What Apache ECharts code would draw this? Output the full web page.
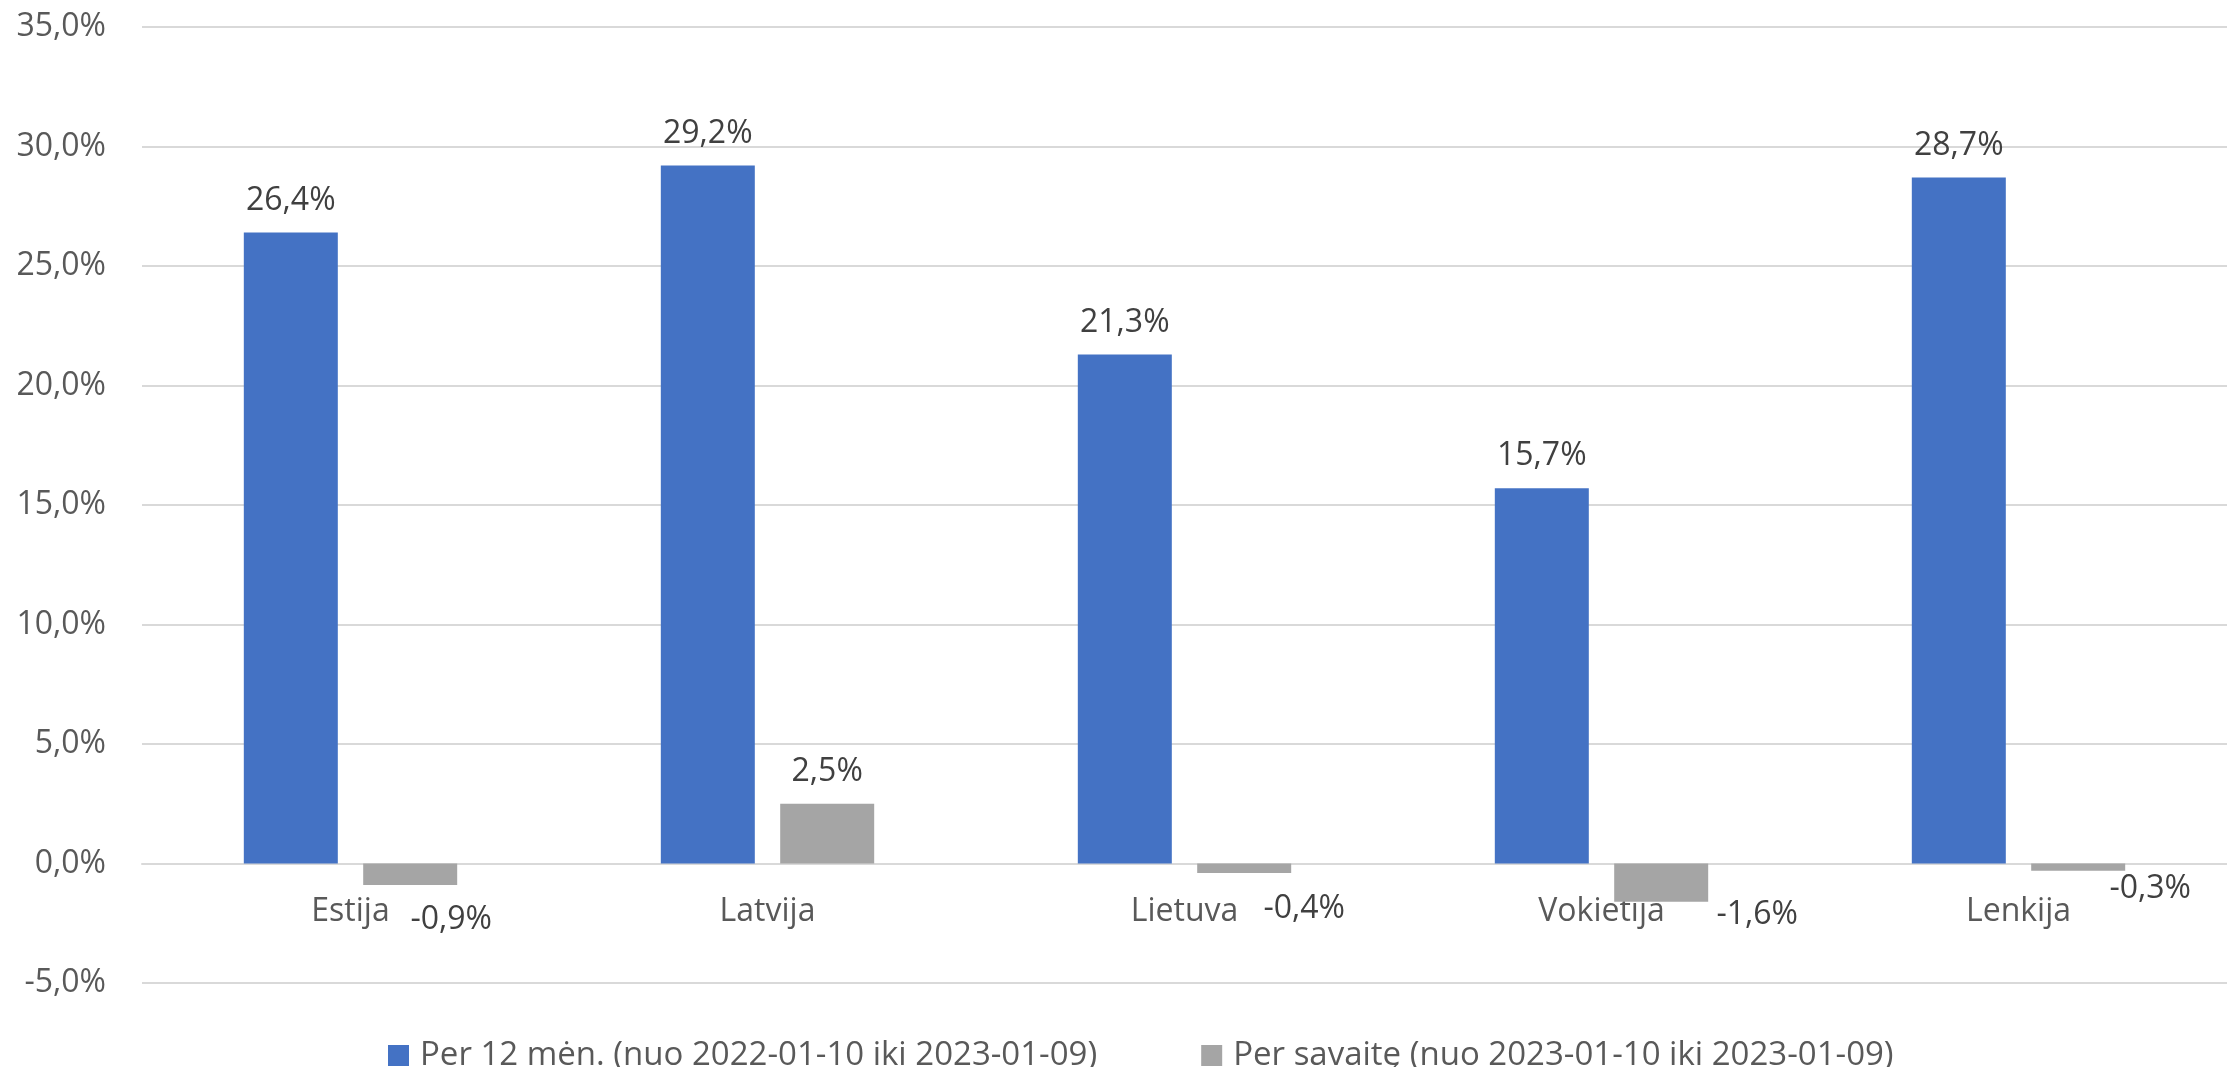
<!DOCTYPE html>
<html>
<head>
<meta charset="utf-8">
<script src="https://cdn.jsdelivr.net/npm/echarts@6/dist/echarts.min.js"></script>
<style>
html,body{margin:0;padding:0;background:#fff;}
#chart{width:2227px;height:1067px;}
</style>
</head>
<body>
<div id="chart"></div>
<script>
const categories = ['Estija', 'Latvija', 'Lietuva', 'Vokietija', 'Lenkija'];
const seriesNames = ['Per 12 mėn. (nuo 2022-01-10 iki 2023-01-09)', 'Per savaitę (nuo 2023-01-10 iki 2023-01-09)'];
const yearValues = [26.4, 29.2, 21.3, 15.7, 28.7];
const weekValues = [-0.9, 2.5, -0.4, -1.6, -0.3];
const yTicks = { min: -5, max: 35, interval: 5 };

const FONT = '"Open Sans", "Noto Sans", sans-serif';
const fmt = v => v.toFixed(1).replace('.', ',') + '%';

// manual label placement of the negative weekly labels (as in the source chart)
const negLabelOffsets = [[41, 19], null, [60, 20], [96, -3], [72, 2]];

const weekData = weekValues.map((v, i) => {
  if (v < 0 && negLabelOffsets[i]) {
    return { value: v, label: { position: 'bottom', distance: 0, offset: negLabelOffsets[i] } };
  }
  return v;
});

const GRID_TOP = 27, GRID_BOTTOM = 84, H = 1067;
const plotH = H - GRID_TOP - GRID_BOTTOM;
// place the category axis on the zero line
const zeroOffset = -plotH * (0 - yTicks.min) / (yTicks.max - yTicks.min);

const chart = echarts.init(document.getElementById('chart'), null, { renderer: 'canvas' });
chart.setOption({
  animation: false,
  backgroundColor: '#ffffff',
  textStyle: { fontFamily: FONT },
  grid: { left: 142, right: -11, top: GRID_TOP, bottom: GRID_BOTTOM, containLabel: false },
  legend: {
    left: 383, top: 1034,
    itemWidth: 21, itemHeight: 21, itemGap: 104,
    icon: 'rect',
    textStyle: { fontFamily: FONT, fontSize: 33, color: '#595959', padding: [0, 0, 0, 6] },
    data: seriesNames
  },
  xAxis: {
    type: 'category',
    data: categories,
    position: 'bottom',
    offset: zeroOffset,
    axisLine: { show: true, onZero: false, lineStyle: { color: '#d9d9d9', width: 2 } },
    axisTick: { show: false },
    axisLabel: { fontFamily: FONT, fontSize: 32, color: '#595959', margin: 32 },
    splitLine: { show: false }
  },
  yAxis: {
    type: 'value',
    min: yTicks.min, max: yTicks.max, interval: yTicks.interval,
    axisLine: { show: false },
    axisTick: { show: false },
    axisLabel: { fontFamily: FONT, fontSize: 32, color: '#595959', margin: 36, formatter: v => fmt(v) },
    splitLine: { show: true, lineStyle: { color: '#d9d9d9', width: 2 } }
  },
  series: [
    {
      name: seriesNames[0], type: 'bar', data: yearValues,
      barWidth: 94, barGap: '27%',
      itemStyle: { color: '#4472C4' },
      label: { show: true, position: 'top', distance: 16, fontFamily: FONT, fontSize: 32, color: '#404040', formatter: p => fmt(p.value) }
    },
    {
      name: seriesNames[1], type: 'bar', data: weekData,
      barWidth: 94, barGap: '27%',
      itemStyle: { color: '#A5A5A5' },
      label: { show: true, position: 'top', distance: 16, fontFamily: FONT, fontSize: 32, color: '#404040', formatter: p => fmt(p.value) }
    }
  ]
});
</script>
</body>
</html>
